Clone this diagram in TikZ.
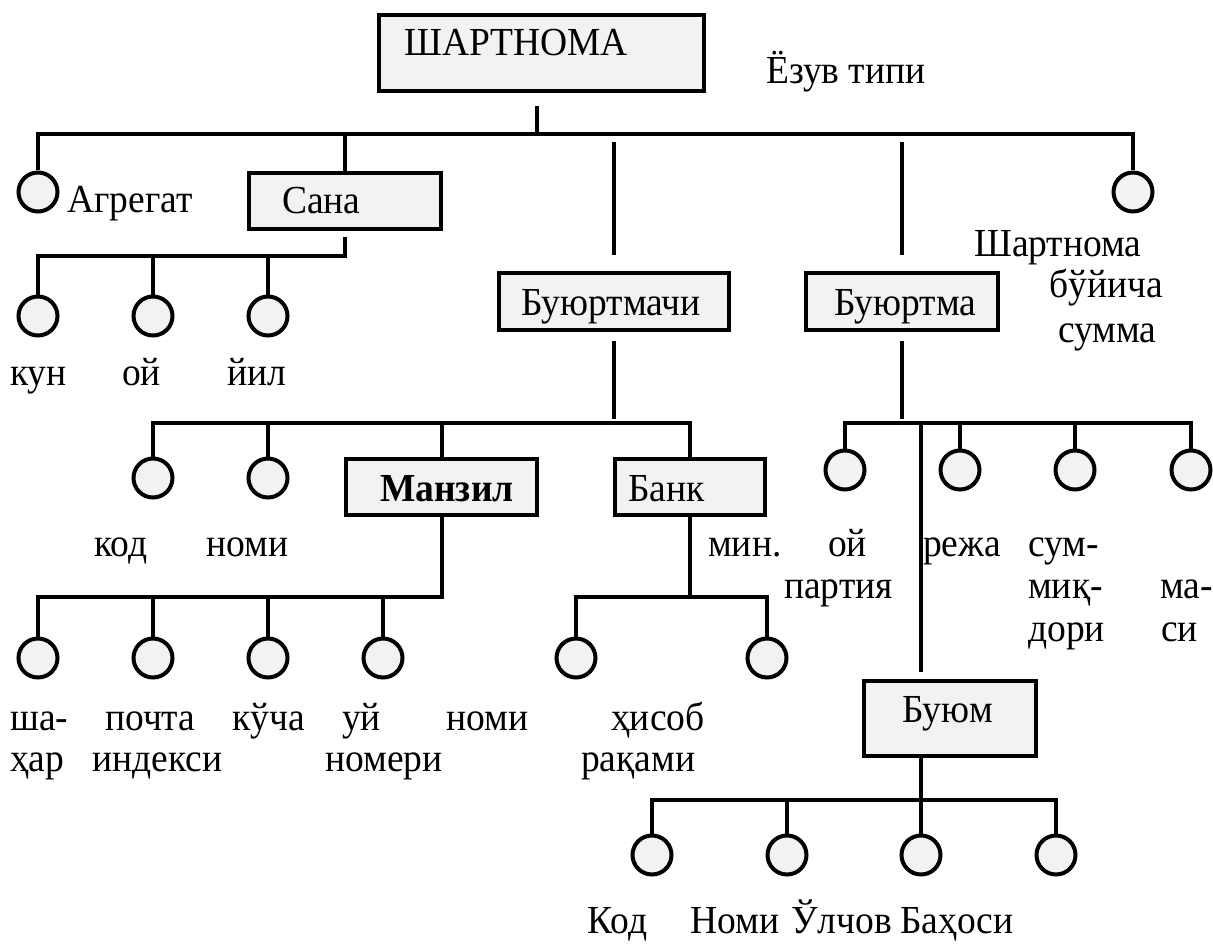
\documentclass[tikz,border=0pt]{standalone}
\usepackage{fontspec}
\setmainfont{Liberation Serif}
\usetikzlibrary{calc}
\definecolor{boxfill}{HTML}{F2F2F2}
\begin{document}
\begin{tikzpicture}[x=1pt,y=-1pt,
  box/.style={draw, line width=4.5pt, fill=boxfill, rectangle, inner sep=0pt},
  leaf/.style={draw, line width=4pt, fill=boxfill, circle, minimum size=39pt, inner sep=0pt},
  conn/.style={line width=4pt},
  txt/.style={anchor=base west, inner sep=0pt, yscale=1.06, transform shape, font=\fontsize{37.5}{41}\selectfont}]
\useasboundingbox (0,0) rectangle (1213,944);
% boxes
\node[box, minimum width=325pt, minimum height=76pt] (top) at (541.5,53) {};
\node[box, minimum width=192pt, minimum height=56pt] (sana) at (345,201) {};
\node[box, minimum width=230pt, minimum height=57pt] (bmachi) at (614,301.5) {};
\node[box, minimum width=192pt, minimum height=57pt] (bma) at (902,301.5) {};
\node[box, minimum width=191pt, minimum height=56pt] (manzil) at (441.5,487) {};
\node[box, minimum width=150pt, minimum height=56pt] (bank) at (690,487) {};
\node[box, minimum width=172pt, minimum height=75pt] (buyum) at (950,718.5) {};
% circles
\node[leaf] (agr) at (38,192) {};
\node[leaf] (sum) at (1133,192) {};
\node[leaf] (kun) at (38,316) {};
\node[leaf] (oy) at (153,316) {};
\node[leaf] (yil) at (268,316) {};
\node[leaf] (kod) at (153,478) {};
\node[leaf] (nomi) at (268,478) {};
\node[leaf] (sh) at (38,658) {};
\node[leaf] (po) at (153,658) {};
\node[leaf] (ku) at (268,658) {};
\node[leaf] (uy) at (383,658) {};
\node[leaf] (b1) at (576,658) {};
\node[leaf] (b2) at (767,658) {};
\node[leaf] (o1) at (845,470) {};
\node[leaf] (o2) at (960,470) {};
\node[leaf] (o3) at (1075,470) {};
\node[leaf] (o4) at (1191,470) {};
\node[leaf] (y1) at (652,855) {};
\node[leaf] (y2) at (787,855) {};
\node[leaf] (y3) at (921,855) {};
\node[leaf] (y4) at (1056,855) {};
% texts
\node[txt] (tTop) at (404,56) {ШАРТНОМА};
\node[txt] (tEz) at (766,84) {Ёзув типи};
\node[txt] (tAgr) at (67,213) {Агрегат};
\node[txt] (tSana) at (282,214) {Сана};
\node[txt] (tKun) at (10,385) {кун};
\node[txt] (tOy) at (122,385) {ой};
\node[txt] (tYil) at (227,385) {йил};
\node[txt] (tBm) at (521,315) {Буюртмачи};
\node[txt] (tBma) at (834,315) {Буюртма};
\node[txt] (tS1) at (974,256) {Шартнома};
\node[txt] (tS2) at (1049,297) {бўйича};
\node[txt] (tS3) at (1058,342) {сумма};
\node[txt] (tKod) at (94,556) {код};
\node[txt] (tNomi) at (206,556) {номи};
\node[txt,font=\fontsize{37.5}{41}\selectfont\bfseries] (tMan) at (380,501) {Манзил};
\node[txt] (tBank) at (628,501) {Банк};
\node[txt] (tMin) at (708,556) {мин.};
\node[txt] (tOy2) at (828,556) {ой};
\node[txt] (tPart) at (784,598) {партия};
\node[txt] (tReja) at (923,556) {режа};
\node[txt] (tSum1) at (1028,556) {сум-};
\node[txt] (tSum2) at (1028,598) {миқ-};
\node[txt] (tSum3) at (1028,641) {дори};
\node[txt] (tMa1) at (1160,598) {ма-};
\node[txt] (tMa2) at (1161,641) {си};
\node[txt] (tSh1) at (10,730) {ша-};
\node[txt] (tSh2) at (10,771) {ҳар};
\node[txt] (tPo1) at (105,730) {почта};
\node[txt] (tPo2) at (92,771) {индекси};
\node[txt] (tKu) at (232,730) {кўча};
\node[txt] (tUy1) at (342,730) {уй};
\node[txt] (tUy2) at (325,771) {номери};
\node[txt] (tNomi2) at (446,730) {номи};
\node[txt] (tH1) at (611,730) {ҳисоб};
\node[txt] (tH2) at (581,771) {рақами};
\node[txt] (tBuyum) at (902,722) {Буюм};
\node[txt] (tK) at (587,933) {Код};
\node[txt] (tN) at (690,933) {Номи};
\node[txt] (tU) at (791,933) {Ўлчов};
\node[txt] (tB) at (900,933) {Баҳоси};
% coordinates
\coordinate (t1) at (537,106);
\coordinate (t2) at (537,134);
\coordinate (m1) at (614,142);
\coordinate (m2) at (614,255);
\coordinate (r1) at (902,142);
\coordinate (r2) at (902,255);
\coordinate (s1) at (345,237);
\coordinate (s2) at (345,256);
\coordinate (u1) at (614,341);
\coordinate (u2) at (614,419);
\coordinate (u3) at (690,423);
\coordinate (z1) at (441.5,597);
\coordinate (k1) at (690,597);
\coordinate (v1) at (902,341);
\coordinate (v2) at (902,419);
\coordinate (v3) at (921,423);
\coordinate (v4) at (921,672);
\coordinate (w1) at (921,800);
% connectors
\draw[conn] (t1) -- (t2);
\draw[conn] (agr) |- (t2) -| (sum);
\draw[conn] (sana.north) -- (sana.north |- t2);
\draw[conn] (m1) -- (m2);
\draw[conn] (r1) -- (r2);
\draw[conn] (s1) -- (s2) -| (kun);
\draw[conn] (oy |- s2) -- (oy);
\draw[conn] (yil |- s2) -- (yil);
\draw[conn] (u1) -- (u2);
\draw[conn] (kod) |- (u3) -- (bank.north);
\draw[conn] (nomi |- u3) -- (nomi);
\draw[conn] (manzil.north |- u3) -- (manzil.north);
\draw[conn] (manzil.south) -- (z1) -| (sh);
\draw[conn] (po |- z1) -- (po);
\draw[conn] (ku |- z1) -- (ku);
\draw[conn] (uy |- z1) -- (uy);
\draw[conn] (bank.south) -- (k1);
\draw[conn] (b1) |- (k1) -| (b2);
\draw[conn] (v1) -- (v2);
\draw[conn] (o1) |- (v3) -| (o4);
\draw[conn] (o2 |- v3) -- (o2);
\draw[conn] (o3 |- v3) -- (o3);
\draw[conn] (v3) -- (v4);
\draw[conn] (buyum.south -| w1) -- (w1);
\draw[conn] (y1) |- (w1) -| (y4);
\draw[conn] (y2 |- w1) -- (y2);
\draw[conn] (y3 |- w1) -- (y3);
\end{tikzpicture}
\end{document}
